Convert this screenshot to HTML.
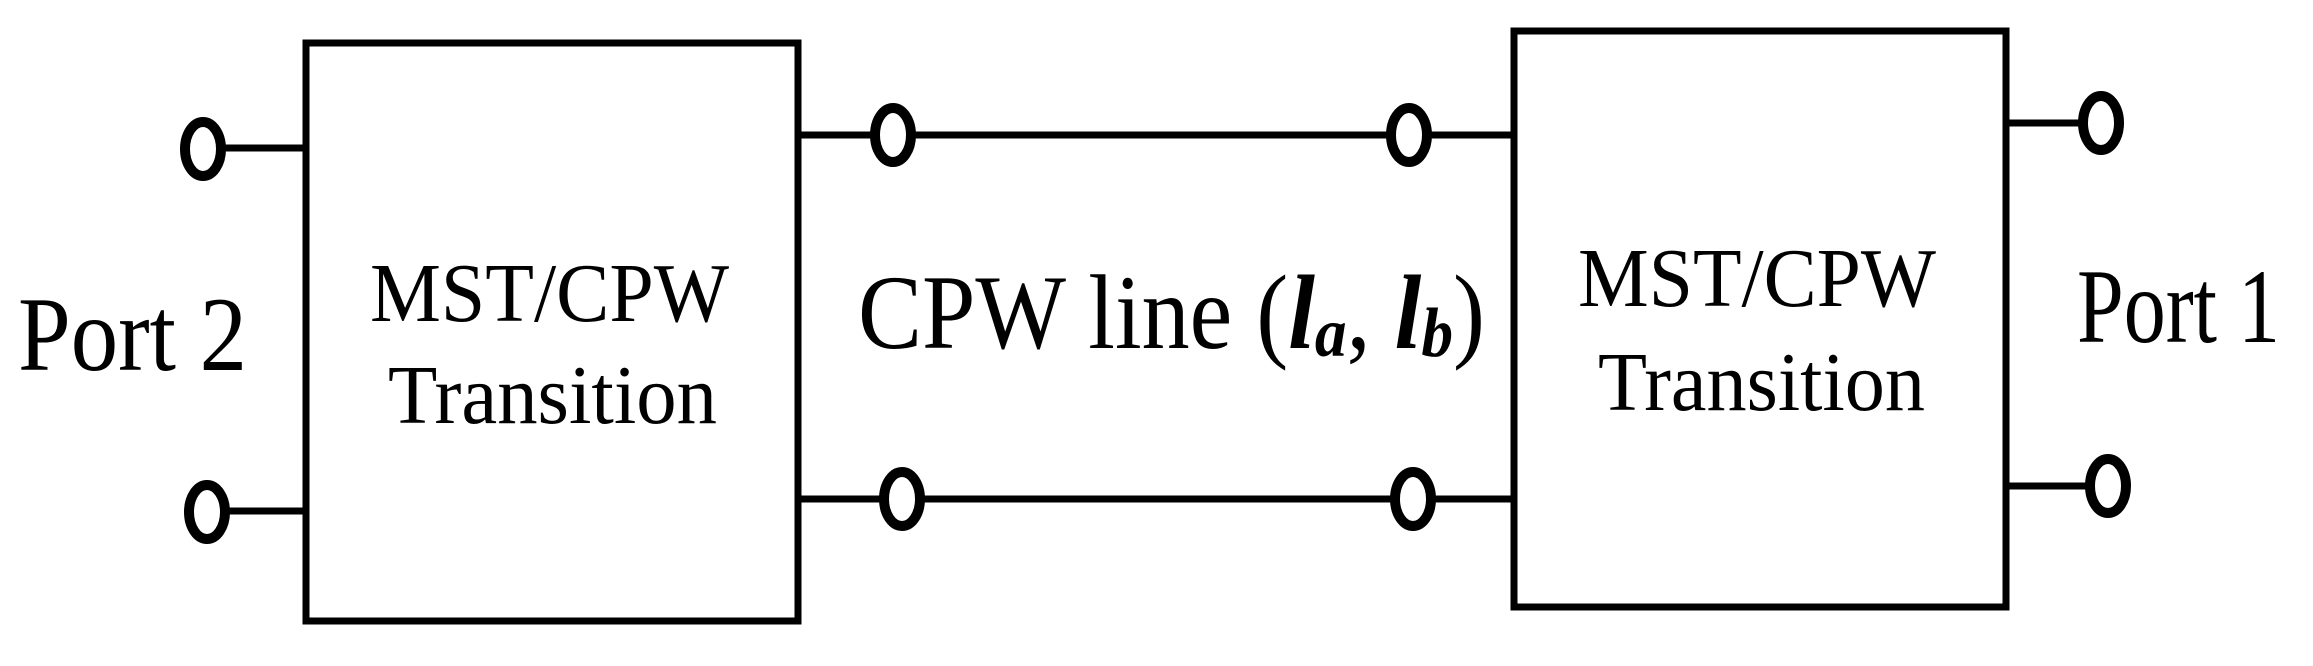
<!DOCTYPE html>
<html><head><meta charset="utf-8"><style>
html,body{margin:0;padding:0;background:#fff;}
svg{display:block;}
text{font-family:"Liberation Serif",serif;fill:#000;}
</style></head><body>
<svg width="2313" height="666" viewBox="0 0 2313 666" xmlns="http://www.w3.org/2000/svg">
<g fill="none" stroke="#000" stroke-width="7">
<rect x="306" y="43" width="492" height="578"/>
<rect x="1514" y="31" width="492" height="576"/>
<line x1="225" y1="148" x2="306" y2="148"/>
<line x1="229" y1="511" x2="306" y2="511"/>
<line x1="798" y1="135" x2="1514" y2="135"/>
<line x1="798" y1="499" x2="1514" y2="499"/>
<line x1="2006" y1="123" x2="2090" y2="123"/>
<line x1="2006" y1="486" x2="2095" y2="486"/>
</g>
<g fill="#fff" stroke="#000" stroke-width="10">
<ellipse cx="203" cy="149" rx="18" ry="27"/>
<ellipse cx="207" cy="512" rx="18" ry="27"/>
<ellipse cx="893" cy="135" rx="18" ry="27"/>
<ellipse cx="902" cy="499" rx="18" ry="27"/>
<ellipse cx="1409" cy="135" rx="18" ry="27"/>
<ellipse cx="1413" cy="499" rx="18" ry="27"/>
<ellipse cx="2101" cy="123" rx="18" ry="27"/>
<ellipse cx="2108" cy="486" rx="18" ry="27"/>
</g>
<text x="18" y="370" font-size="106" textLength="229" lengthAdjust="spacingAndGlyphs">Port 2</text>
<text x="370" y="321" font-size="84" textLength="359" lengthAdjust="spacingAndGlyphs">MST/CPW</text>
<text x="388" y="423" font-size="84" textLength="329" lengthAdjust="spacingAndGlyphs">Transition</text>
<text x="1578" y="306" font-size="84" textLength="358" lengthAdjust="spacingAndGlyphs">MST/CPW</text>
<text x="1598" y="410" font-size="84" textLength="327" lengthAdjust="spacingAndGlyphs">Transition</text>
<text x="2077" y="342" font-size="106" textLength="203" lengthAdjust="spacingAndGlyphs">Port 1</text>
<text x="858" y="348" font-size="106" textLength="627" lengthAdjust="spacingAndGlyphs">CPW line (<tspan font-style="italic" font-weight="bold">l</tspan><tspan font-style="italic" font-weight="bold" font-size="70" dy="8">a</tspan><tspan dy="-8">, </tspan><tspan font-style="italic" font-weight="bold">l</tspan><tspan font-style="italic" font-weight="bold" font-size="70" dy="8">b</tspan><tspan dy="-8">)</tspan></text>
</svg>
</body></html>
